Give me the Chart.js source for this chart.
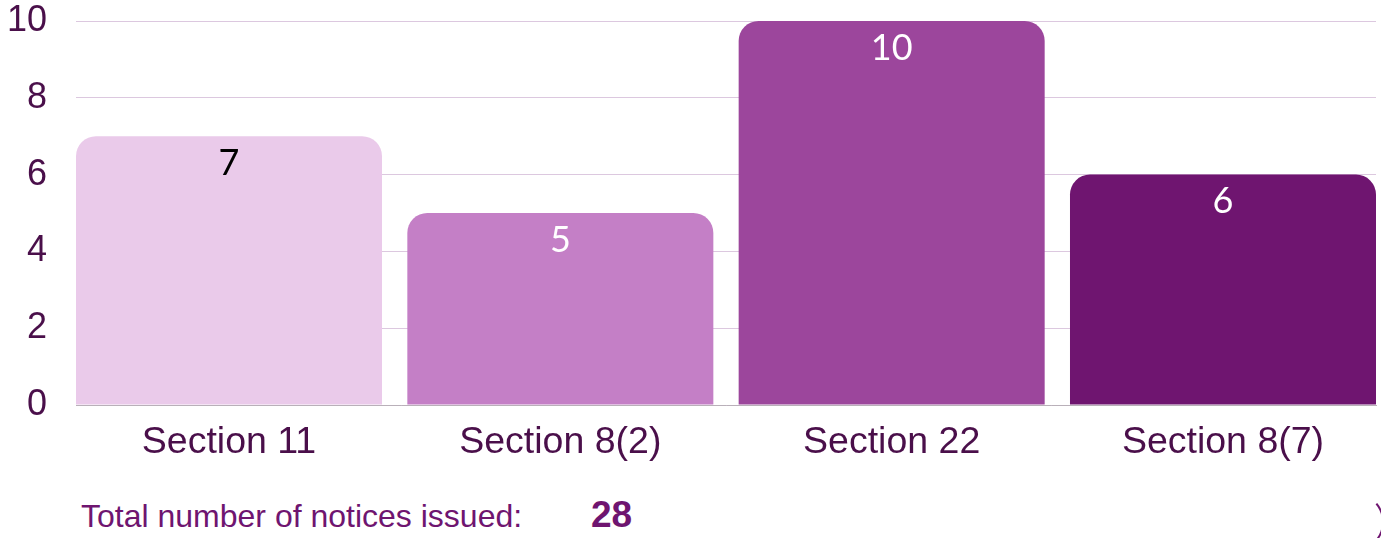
<!DOCTYPE html>
<html>
<head>
<meta charset="utf-8">
<script src="https://cdn.jsdelivr.net/npm/chart.js@4"></script>
<style>
  html, body { margin: 0; padding: 0; background: #ffffff; }
  body { width: 1381px; height: 538px; position: relative; overflow: hidden; font-family: "Liberation Sans", Arial, sans-serif; }
  #wrap { position: absolute; left: 0; top: 0; width: 1381px; height: 461px; }
  #total { position: absolute; left: 81px; top: 498px; font-size: 32px; color: #6f1570; white-space: nowrap; }
  #totalVal { position: absolute; left: 591px; top: 494px; font-size: 37px; font-weight: bold; color: #6f1570; }
  #arc { position: absolute; left: 1340px; top: 496px; width: 40px; height: 48px; border: 2px solid transparent; border-right-color: #6f1570; border-radius: 50%; }
</style>
</head>
<body>
<div id="wrap"><canvas id="c"></canvas></div>
<div id="total">Total number of notices issued:</div>
<div id="totalVal">28</div>
<div id="arc"></div>
<script>
const categories = ["Section 11", "Section 8(2)", "Section 22", "Section 8(7)"];
const values = [7, 5, 10, 6];
const barColors = ["#eacaea", "#c47fc6", "#9c469c", "#6f1570"];
const labelColors = ["#000000", "#ffffff", "#ffffff", "#ffffff"];
const yTicks = [0, 2, 4, 6, 8, 10];

const valueLabels = {
  id: 'valueLabels',
  afterDatasetsDraw(chart) {
    const ctx = chart.ctx;
    const meta = chart.getDatasetMeta(0);
    ctx.save();
    ctx.font = '36px Lato, "Liberation Sans", Arial, sans-serif';
    ctx.textAlign = 'center';
    ctx.textBaseline = 'middle';
    meta.data.forEach((bar, i) => {
      ctx.fillStyle = labelColors[i];
      ctx.fillText(String(values[i]), bar.x, bar.y + 27);
    });
    ctx.restore();
  }
};

const half = 0.4618;
const chart = new Chart(document.getElementById('c'), {
  type: 'bar',
  data: {
    datasets: [{
      data: values.map((v, i) => ({ x: i, y: v })),
      backgroundColor: barColors,
      borderRadius: { topLeft: 20, topRight: 20 },
      borderSkipped: 'bottom',
      barPercentage: 2 * half,
      categoryPercentage: 1.0
    }]
  },
  options: {
    responsive: true,
    maintainAspectRatio: false,
    animation: false,
    layout: { padding: { left: 7, right: 5, top: 0, bottom: 0 } },
    plugins: { legend: { display: false }, tooltip: { enabled: false } },
    scales: {
      x: {
        type: 'linear',
        offset: false,
        min: -half, max: categories.length - 1 + half,
        afterBuildTicks(axis) { axis.ticks = categories.map((c, i) => ({ value: i })); },
        afterFit(axis) { axis.height = 56; axis.paddingLeft = 0; axis.paddingRight = 0; },
        grid: { display: false, drawTicks: false },
        border: { display: true, color: '#b9b0b9', width: 1 },
        ticks: {
          color: '#4a0f4a', font: { size: 37.5, family: '"Liberation Sans", Arial, sans-serif' },
          padding: 15, maxRotation: 0, autoSkip: false,
          callback: (v) => categories[v]
        }
      },
      y: {
        min: 0, max: 10,
        afterFit(axis) { axis.width = 69; axis.paddingTop = 21; axis.paddingBottom = 0; },
        afterBuildTicks(axis) { axis.ticks = yTicks.map(v => ({ value: v })); },
        grid: { color: '#dcc8df', drawTicks: false },
        border: { display: false },
        ticks: { color: '#4a0f4a', font: { size: 36, family: '"Liberation Sans", Arial, sans-serif' }, padding: 29 }
      }
    }
  },
  plugins: [valueLabels]
});
</script>
</body>
</html>
